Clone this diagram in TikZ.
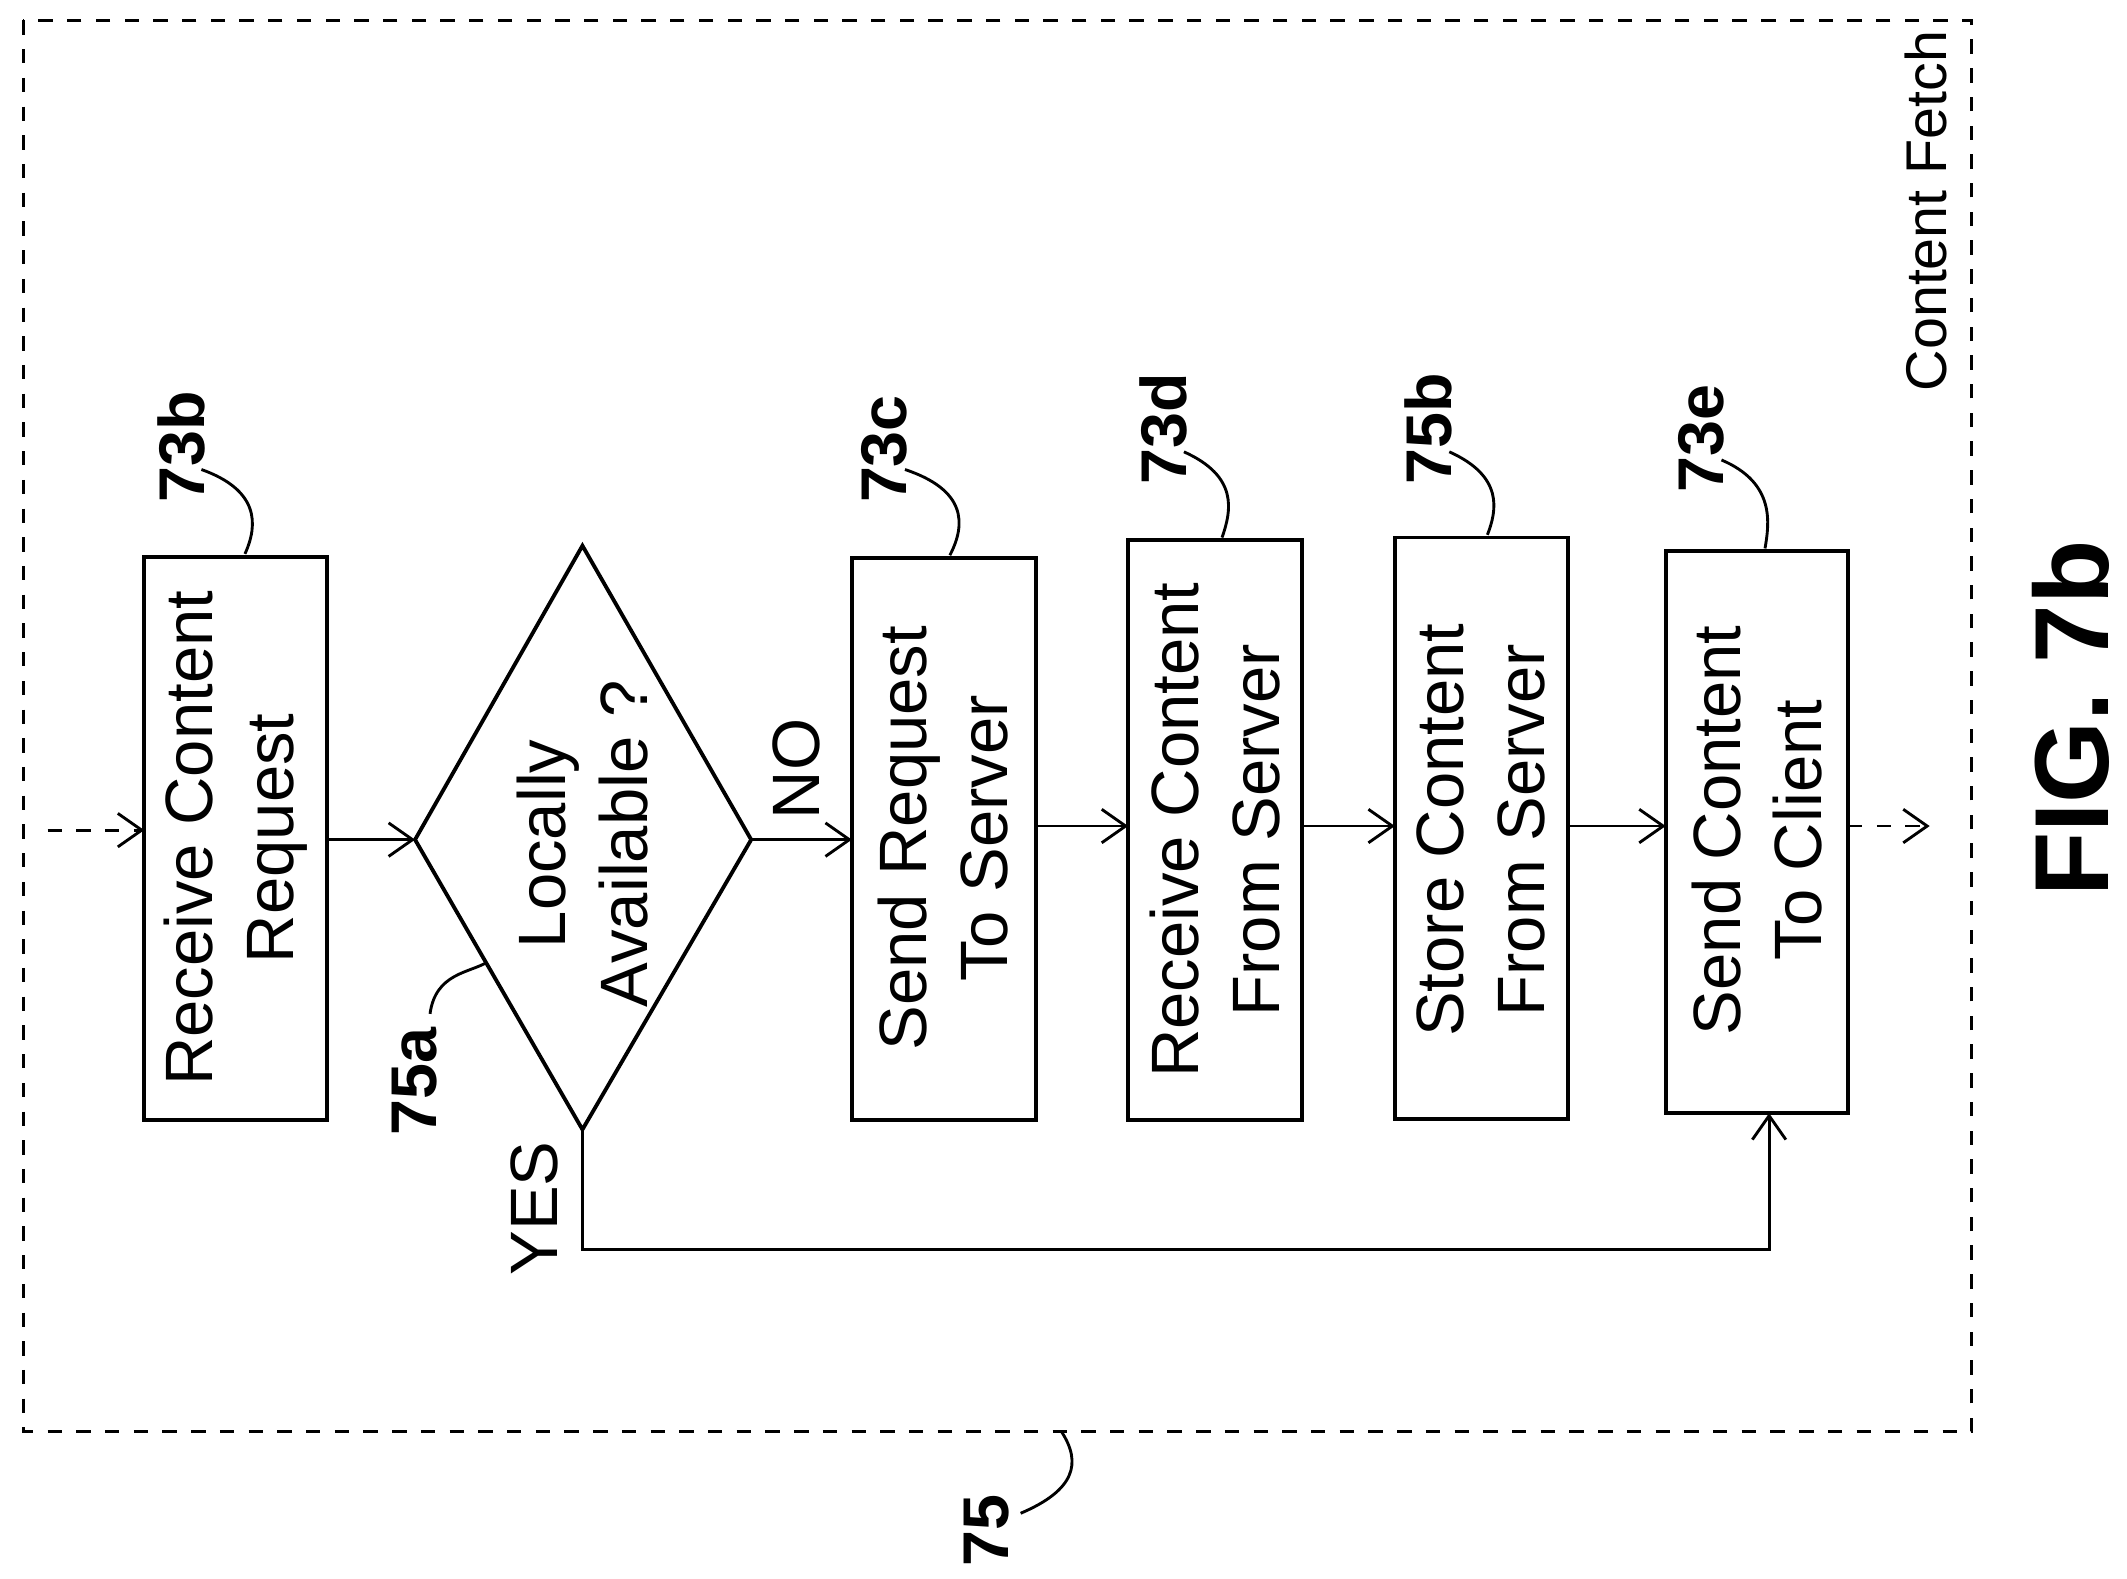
\documentclass[tikz,border=0pt]{standalone}
\usepackage{fontspec}
\setmainfont{Liberation Sans}
\usetikzlibrary{arrows.meta}
\begin{document}
\begin{tikzpicture}[x=0.01cm,y=-0.01cm,
  box/.style={draw,thick,inner sep=0pt},
  txt/.style={rotate=90,align=center,font=\fontsize{14}{17}\selectfont},
  lab/.style={rotate=90,font=\fontsize{13.5}{16}\selectfont\bfseries},
  arr/.style={-{Straight Barb[length=5pt,width=7pt]},semithick},
  lead/.style={semithick}]
\useasboundingbox (0,0) rectangle (1563,1160);
\draw[dashed,semithick] (17,15) rectangle (1449,1052);
\node[txt,font=\fontsize{12}{14}\selectfont] (cf) at (1415,155) {Content Fetch};
% boxes
\draw[box] (106,409) rectangle (240,823); \coordinate (b1) at (173,616);
\node[txt] (t1) at (173,616) {Receive Content\\Request};
\coordinate (dl) at (305,617); \coordinate (dt) at (428,401); \coordinate (dr) at (552,617); \coordinate (db) at (428,830);
\draw[thick] (dl)--(dt)--(dr)--(db)--cycle;
\node[txt] (t2) at (428,620) {Locally\\Available ?};
\draw[box] (626,410) rectangle (761,823); \node[txt] (t3) at (693,616) {Send Request\\To Server};
\draw[box] (829,397) rectangle (957,823); \node[txt] (t4) at (893,610) {Receive Content\\From Server};
\draw[box] (1025,395) rectangle (1152,822); \node[txt] (t5) at (1088,610) {Store Content\\From Server};
\draw[box] (1224,405) rectangle (1358,818); \node[txt] (t6) at (1291,610) {Send Content\\To Client};
% arrows
\coordinate (in) at (35,610);
\draw[arr,dashed] (in) -- (106,610);
\draw[arr] (240,617) -- (dl);
\draw[arr] (dr) -- (626,617);
\draw[arr] (761,607) -- (829,607);
\draw[arr] (957,607) -- (1025,607);
\draw[arr] (1152,607) -- (1224,607);
\draw[arr,dashed] (1358,607) -- (1418,607);
\draw[arr] (db) -- (428,918) -- (1300,918) -- (1300,818);
\node[txt] (no) at (585,565) {NO};
\node[txt] (yes) at (393,888) {YES};
% labels
\node[lab] (l1) at (133,328) {73b};
\draw[lead] (148,345) .. controls (190,360) and (190,385) .. (180,407);
\node[lab] (l2) at (650,330) {73c};
\draw[lead] (665,345) .. controls (710,360) and (710,385) .. (698,408);
\node[lab] (l3) at (855,315) {73d};
\draw[lead] (870,332) .. controls (910,350) and (905,375) .. (898,395);
\node[lab] (l4) at (1050,315) {75b};
\draw[lead] (1065,332) .. controls (1105,350) and (1100,375) .. (1093,393);
\node[lab] (l5) at (1250,322) {73e};
\draw[lead] (1265,338) .. controls (1305,355) and (1300,385) .. (1297,403);
\node[lab] (l6) at (305,795) {75a};
\draw[lead] (316,745) .. controls (320,715) and (345,715) .. (358,707);
\node[lab] (l7) at (725,1125) {75};
\draw[lead] (750,1112) .. controls (790,1095) and (795,1075) .. (780,1052);
\node[rotate=90,font=\fontsize{22}{26}\selectfont\bfseries] (fig) at (1522,528) {FIG. 7b};
\end{tikzpicture}
\end{document}
